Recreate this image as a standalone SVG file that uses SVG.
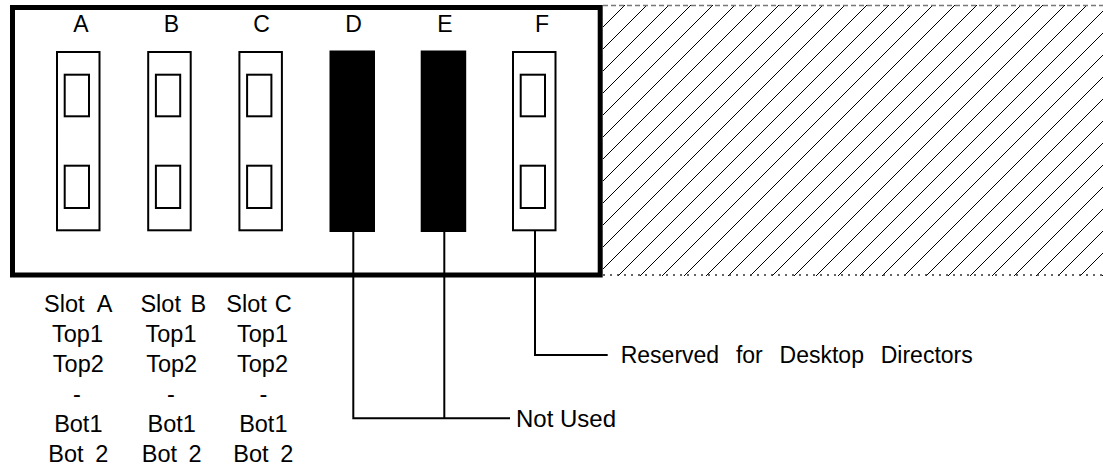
<svg xmlns="http://www.w3.org/2000/svg" width="1103" height="467" viewBox="0 0 1103 467">
<style>
text{font-family:"Liberation Sans",Arial,sans-serif;fill:#000}
.lbl{font-size:23px;text-anchor:middle}
.col{font-size:23.5px;text-anchor:middle}
.slot{fill:#fff;stroke:#000;stroke-width:2}
.blk{fill:#000;stroke:none}
.conn{fill:none;stroke:#000;stroke-width:2}
</style>
<defs>
<pattern id="hatch" patternUnits="userSpaceOnUse" x="603" y="5" width="22" height="22">
<path d="M-2,2 L2,-2 M0,22 L22,0 M20,24 L24,20" stroke="#000" stroke-width="1.4" fill="none" shape-rendering="crispEdges"/>
</pattern>
<g id="slotShape">
<rect class="slot" x="0" y="0" width="42.5" height="178.3"/>
<rect class="slot" x="7.7" y="22.7" width="24.3" height="41.6"/>
<rect class="slot" x="7.7" y="113.7" width="24.3" height="42.3"/>
</g>
</defs>
<rect width="1103" height="467" fill="#fff"/>
<g id="hatched-area">
<rect x="603" y="5" width="500" height="271" fill="url(#hatch)"/>
<line x1="603" y1="5.5" x2="1103" y2="5.5" stroke="#777" stroke-width="1.5" stroke-dasharray="5 3"/>
<line x1="603" y1="275" x2="1103" y2="275" stroke="#333" stroke-width="1.5" stroke-dasharray="2 5"/>
</g>
<g id="chassis">
<rect x="12.5" y="7.5" width="587.7" height="267.5" fill="none" stroke="#000" stroke-width="5"/>
</g>
<g id="slot-A"><use href="#slotShape" x="57" y="52"/><text class="lbl" x="81" y="32.3">A</text></g>
<g id="slot-B"><use href="#slotShape" x="148.2" y="52"/><text class="lbl" x="171.5" y="32.3">B</text></g>
<g id="slot-C"><use href="#slotShape" x="239.4" y="52"/><text class="lbl" x="261.5" y="32.3">C</text></g>
<g id="slot-D"><rect class="blk" x="329.5" y="50.5" width="45.5" height="181.5"/><text class="lbl" x="353.5" y="32.3">D</text></g>
<g id="slot-E"><rect class="blk" x="420.7" y="50.5" width="45.5" height="181.5"/><text class="lbl" x="445" y="32.3">E</text></g>
<g id="slot-F"><use href="#slotShape" x="513" y="52"/><text class="lbl" x="542" y="32.3">F</text></g>
<g id="connectors">
<path class="conn" d="M353.3,232 V418.3 H510"/>
<path class="conn" d="M444.3,232 V418.3"/>
<path class="conn" d="M535,231 V355 H607.7"/>
</g>
<g id="label-not-used"><text x="516" y="427.3" style="font-size:24px">Not Used</text></g>
<g id="label-reserved"><text x="620.7" y="362.7" style="font-size:23px;word-spacing:10.4px">Reserved for Desktop Directors</text></g>
<g id="legend-A">
<text class="col" x="78.3" y="312" style="word-spacing:7px">Slot A</text>
<text class="col" x="77.5" y="342">Top1</text>
<text class="col" x="78.3" y="372">Top2</text>
<text class="col" x="77" y="402">-</text>
<text class="col" x="78.3" y="432">Bot1</text>
<text class="col" x="78.3" y="462" style="word-spacing:5px">Bot 2</text>
</g>
<g id="legend-B">
<text class="col" x="173.3" y="312" style="word-spacing:3px">Slot B</text>
<text class="col" x="171" y="342">Top1</text>
<text class="col" x="171.7" y="372">Top2</text>
<text class="col" x="171" y="402">-</text>
<text class="col" x="171.7" y="432">Bot1</text>
<text class="col" x="171.7" y="462" style="word-spacing:5px">Bot 2</text>
</g>
<g id="legend-C">
<text class="col" x="259" y="312" style="word-spacing:1.5px">Slot C</text>
<text class="col" x="262.5" y="342">Top1</text>
<text class="col" x="262.5" y="372">Top2</text>
<text class="col" x="263.3" y="402">-</text>
<text class="col" x="263.3" y="432">Bot1</text>
<text class="col" x="263.3" y="462" style="word-spacing:5px">Bot 2</text>
</g>
</svg>
